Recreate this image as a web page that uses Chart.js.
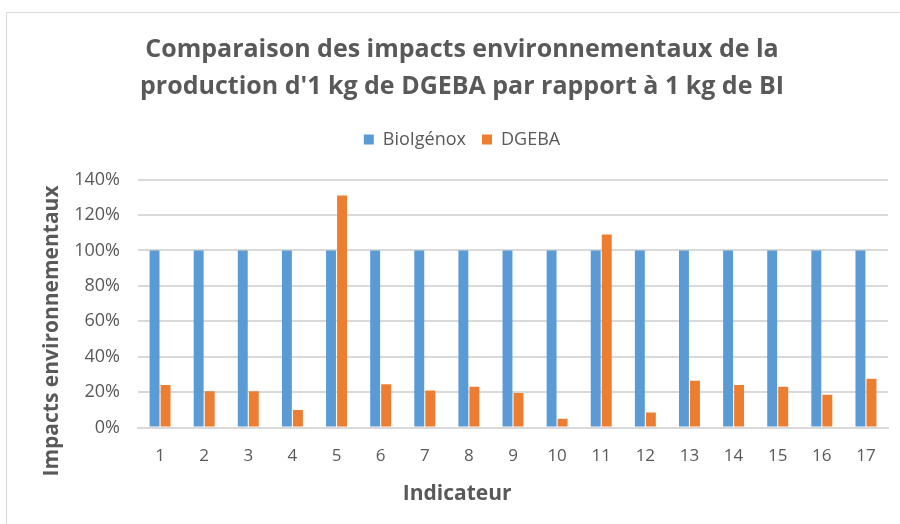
<!DOCTYPE html>
<html>
<head>
<meta charset="utf-8">
<script src="https://cdn.jsdelivr.net/npm/chart.js@4"></script>
<style>
  html, body { margin: 0; padding: 0; background: #fff; overflow: hidden; }
  #frame { position: absolute; left: 6px; top: 12px; width: 910px; height: 530px; border: 1px solid #d9d9d9; }
  #wrap { position: absolute; left: 0; top: 0; width: 900px; height: 524px; }
</style>
</head>
<body>
<div id="frame"></div>
<div id="wrap"><canvas id="impactChart"></canvas></div>
<script>
// indicateurs 1..17
const indicateurs = ["1","2","3","4","5","6","7","8","9","10","11","12","13","14","15","16","17"];
// BioIgénox sert de référence (100 %)
const bioIgenox = [100,100,100,100,100,100,100,100,100,100,100,100,100,100,100,100,100];
const dgeba = [24,20.5,20.5,10,131,24.5,21,23,19.5,5,109,8.5,26.5,24,23,18.5,27.5];
const yTicks = [0,20,40,60,80,100,120,140];

const txtGray = "#595959";
const fontFam = "'Open Sans', sans-serif";

// titres des axes dessinés à la main (position façon Excel)
const axisTitles = {
    id: "axisTitles",
    afterDraw(chart) {
        const ctx = chart.ctx;
        ctx.save();
        ctx.fillStyle = txtGray;
        ctx.font = "bold 21px " + fontFam;
        ctx.textAlign = "center";
        ctx.textBaseline = "middle";
        ctx.fillText("Indicateur", chart.width * 0.508, 494);
        ctx.translate(52, 331);
        ctx.rotate(-Math.PI / 2);
        ctx.fillText("Impacts environnementaux", 0, 0);
        ctx.restore();
    }
};

// un peu d'air sous la légende
const legendGap = {
    id: "legendGap",
    beforeInit(chart) {
        const fit = chart.legend.fit;
        chart.legend.fit = function () {
            fit.bind(chart.legend)();
            this.height += 21;
        };
    }
};

new Chart("impactChart", {
    type: "bar",
    data: {
        labels: indicateurs,
        datasets: [
            {
                label: "BioIgénox",
                data: bioIgenox,
                backgroundColor: "#5b9bd5",
                borderWidth: 0
            },
            {
                label: "DGEBA",
                data: dgeba,
                backgroundColor: "#ed7d31",
                borderWidth: 0
            }
        ]
    },
    plugins: [axisTitles, legendGap],
    options: {
        responsive: true,
        maintainAspectRatio: false,
        animation: false,
        datasets: { bar: { categoryPercentage: 0.5, barPercentage: 0.9 } },
        layout: { padding: { left: 36, right: 12, top: 32, bottom: 40 } },
        plugins: {
            title: {
                display: true,
                text: ["Comparaison des impacts environnementaux de la", "production d'1 kg de DGEBA par rapport à 1 kg de BI"],
                color: txtGray,
                font: { family: fontFam, size: 25, weight: "bold", lineHeight: 1.45 },
                padding: { top: 0, bottom: 10 }
            },
            legend: {
                position: "top",
                labels: {
                    color: txtGray,
                    font: { family: fontFam, size: 18 },
                    boxWidth: 10,
                    boxHeight: 10,
                    padding: 16
                }
            },
            tooltip: { enabled: false }
        },
        scales: {
            x: {
                grid: { display: false, drawTicks: false },
                border: { display: true, color: "#d9d9d9", width: 2 },
                ticks: { color: txtGray, font: { family: fontFam, size: 17 }, padding: 18 }
            },
            y: {
                min: 0,
                max: 140,
                afterBuildTicks: axis => { axis.ticks = yTicks.map(v => ({ value: v })); },
                afterFit: axis => { axis.width = 102; },
                grid: { color: "#d9d9d9", lineWidth: 2, drawTicks: false },
                border: { display: false },
                ticks: {
                    color: txtGray,
                    font: { family: fontFam, size: 18 },
                    padding: 18,
                    callback: v => v + "%"
                }
            }
        }
    }
});
</script>
</body>
</html>
